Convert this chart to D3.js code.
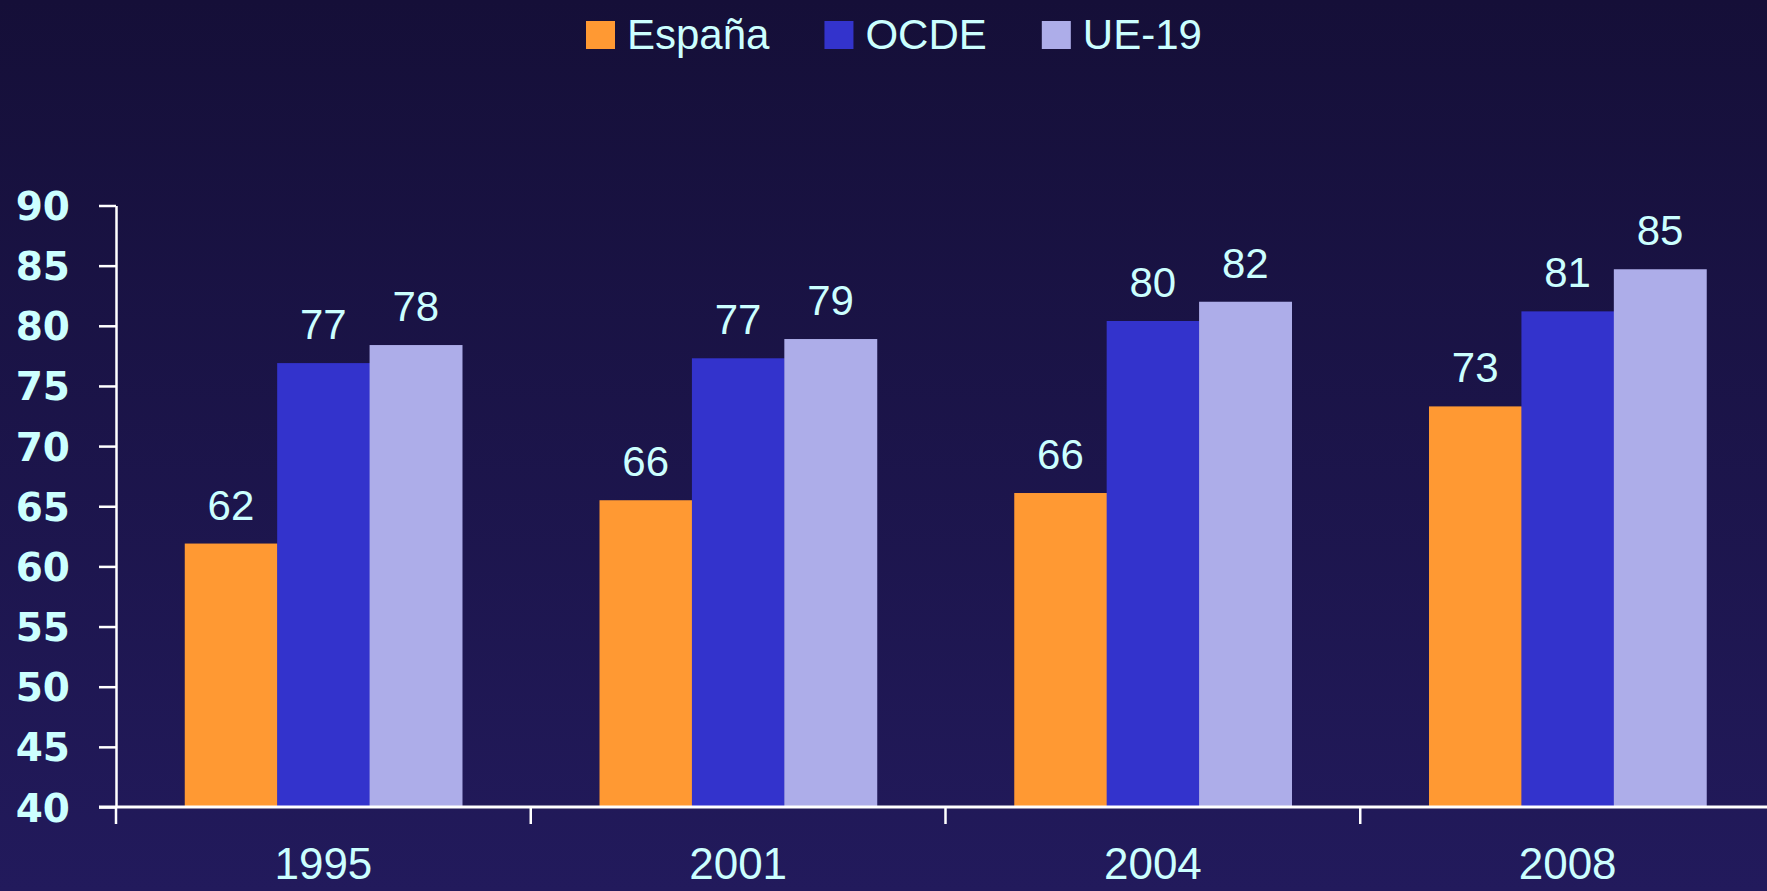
<!DOCTYPE html>
<html>
<head>
<meta charset="utf-8">
<script src="https://cdn.jsdelivr.net/npm/d3@7"></script>
<style>
  html, body { margin: 0; padding: 0; overflow: hidden; }
  body { width: 1767px; height: 891px; }
  svg { display: block; }
</style>
</head>
<body>
<svg id="chart" width="1767" height="891"></svg>
<script>
// ---- data ----
const years = ["1995", "2001", "2004", "2008"];
const seriesNames = ["España", "OCDE", "UE-19"];
const espana = [61.9, 65.5, 66.1, 73.3];
const ocde = [76.9, 77.3, 80.4, 81.2];
const ue19 = [78.4, 78.9, 82.0, 84.7];
const espanaLabels = ["62", "66", "66", "73"];
const ocdeLabels = ["77", "77", "80", "81"];
const ue19Labels = ["78", "79", "82", "85"];
const yTicks = [40, 45, 50, 55, 60, 65, 70, 75, 80, 85, 90];
const colors = ["#FF9933", "#3333CC", "#ADADE9"];

const seriesValues = [espana, ocde, ue19];
const seriesLabels = [espanaLabels, ocdeLabels, ue19Labels];

// ---- layout ----
const W = 1767, H = 891;
const mLeft = 116, mRight = 1775, mTop = 205.5, mBottom = 807;
const textColor = "#CCFFFF";

const svg = d3.select("#chart");

// background gradient
const defs = svg.append("defs");
const grad = defs.append("linearGradient").attr("id", "bg")
  .attr("x1", 0).attr("y1", 0).attr("x2", 0).attr("y2", 1);
grad.append("stop").attr("offset", "0%").attr("stop-color", "#150f38");
grad.append("stop").attr("offset", "100%").attr("stop-color", "#221a5c");
svg.append("rect").attr("width", W).attr("height", H).attr("fill", "url(#bg)");

// scales
const x0 = d3.scaleBand().domain(years).range([mLeft, mRight]).paddingInner(0).paddingOuter(0);
const x1 = d3.scaleBand().domain(seriesNames).range([0, x0.bandwidth()])
  .paddingInner(0).paddingOuter(0.744);
const y = d3.scaleLinear().domain([40, 90]).range([mBottom, mTop]);

// bars
const rows = [];
years.forEach((yr, i) => {
  seriesNames.forEach((s, j) => {
    rows.push({ year: yr, series: s, value: seriesValues[j][i], label: seriesLabels[j][i], color: colors[j] });
  });
});

const g = svg.append("g");
g.selectAll("rect.bar").data(rows).enter().append("rect")
  .attr("class", "bar")
  .attr("x", d => x0(d.year) + x1(d.series))
  .attr("y", d => y(d.value))
  .attr("width", x1.bandwidth() + 0.5)
  .attr("height", d => y(40) - y(d.value))
  .attr("fill", d => d.color);

// value labels
g.selectAll("text.val").data(rows).enter().append("text")
  .attr("class", "val")
  .attr("x", d => x0(d.year) + x1(d.series) + x1.bandwidth() / 2)
  .attr("y", d => y(d.value) - 24)
  .attr("text-anchor", "middle")
  .attr("fill", textColor)
  .attr("font-family", "'Liberation Sans', Arial, sans-serif")
  .attr("font-size", 42)
  .text(d => d.label);

// y axis
const yAxis = d3.axisLeft(y).tickValues(yTicks).tickSize(17).tickPadding(29).tickSizeOuter(0);
const yg = svg.append("g").attr("transform", `translate(${mLeft},0)`).call(yAxis);
yg.select(".domain").attr("stroke", "#ffffff").attr("stroke-width", 2.5);
yg.selectAll(".tick line").attr("stroke", "#ffffff").attr("stroke-width", 2.5);
yg.selectAll(".tick text")
  .attr("fill", textColor)
  .attr("font-family", "'DejaVu Sans', sans-serif")
  .attr("font-weight", "bold")
  .attr("font-size", 39)
  .attr("dy", "0.36em");

// x axis
const xAxis = d3.axisBottom(x0).tickSize(0).tickPadding(68).tickSizeOuter(0);
const xg = svg.append("g").attr("transform", `translate(0,${mBottom})`).call(xAxis);
xg.select(".domain").remove();
xg.selectAll(".tick text")
  .attr("fill", textColor)
  .attr("font-family", "'Liberation Sans', Arial, sans-serif")
  .attr("font-size", 44)
  .attr("dy", "0.1em");
// x axis line and category separators
svg.append("line").attr("x1", 99).attr("x2", W).attr("y1", mBottom).attr("y2", mBottom)
  .attr("stroke", "#ffffff").attr("stroke-width", 3);
svg.selectAll("line.sep").data(years).enter().append("line")
  .attr("class", "sep")
  .attr("x1", d => x0(d)).attr("x2", d => x0(d))
  .attr("y1", mBottom).attr("y2", mBottom + 17)
  .attr("stroke", "#ffffff").attr("stroke-width", 2.5);

// legend
const legend = svg.append("g");
let lx = 586;
seriesNames.forEach((s, j) => {
  legend.append("rect").attr("x", lx).attr("y", 21).attr("width", 29).attr("height", 28).attr("fill", colors[j]);
  const t = legend.append("text")
    .attr("x", lx + 41).attr("y", 49)
    .attr("fill", textColor)
    .attr("font-family", "'Liberation Sans', Arial, sans-serif")
    .attr("font-size", 42)
    .text(s);
  lx = lx + 41 + t.node().getComputedTextLength() + 55;
});
</script>
</body>
</html>
